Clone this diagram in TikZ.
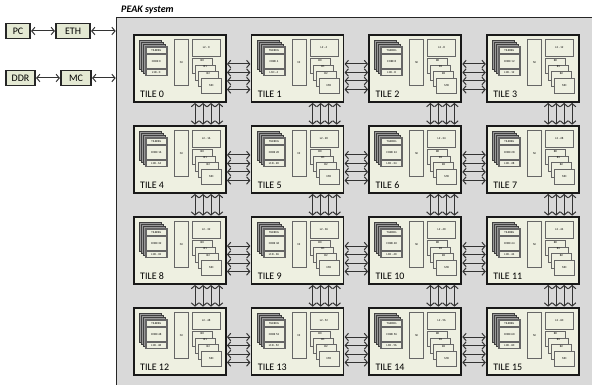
\documentclass[tikz,border=0pt]{standalone}
\usepackage{fontspec}
\setmainfont{Carlito}
\usetikzlibrary{arrows.meta,positioning,calc}
\definecolor{peakgray}{HTML}{D9D9D9}
\definecolor{tilecream}{HTML}{EEF0E1}
\definecolor{extcream}{HTML}{E4E9D3}

\begin{document}
\begin{tikzpicture}[x=1pt, y=-1pt,
    ext/.style={draw=black!85, line width=1.5pt, fill=extcream, minimum height=15pt,
                inner sep=0pt, font=\fontsize{10}{10}\selectfont},
    tile/.style={draw=black!90, line width=1.6pt, fill=tilecream, minimum width=92pt,
                 minimum height=67pt, anchor=north west, inner sep=0pt},
    part/.style={draw=black!60, line width=0.5pt, fill=tilecream, anchor=north west,
                 inner sep=0pt, font=\fontsize{3}{3}\selectfont},
    layer/.style={part, fill=black!40, draw=black!75, minimum width=22pt, minimum height=29pt},
    biarr/.style={{Straight Barb[length=3.2pt,width=7.5pt]}-{Straight Barb[length=3.2pt,width=7.5pt]},
                  line width=1pt, black!80, shorten <=0.3pt, shorten >=0.3pt}
]
\useasboundingbox (0,0) rectangle (592,385);

% PEAK system box
\node[draw=black!85, line width=1.4pt, fill=peakgray, anchor=north west, inner sep=0pt,
      minimum width=480pt, minimum height=372pt] (peak) at (116,17) {};
\node[anchor=south west, inner sep=0pt, font=\fontsize{10}{10}\selectfont\bfseries\itshape]
      (title) at (121,14) {PEAK system};

% outside parts
\node[ext, minimum width=24pt] (pc) at (18,31) {PC};
\node[ext, minimum width=34pt] (eth) at (73,31) {ETH};
\node[ext, minimum width=29pt] (ddr) at (20.5,78) {DDR};
\node[ext, minimum width=30pt] (mc) at (76,78) {MC};

\draw[biarr] (pc) -- (eth);
\draw[biarr] (eth.east) -- (eth.east -| peak.west);
\draw[biarr] (ddr) -- (mc);
\draw[biarr] (mc.east) -- (mc.east -| peak.west);

% tiles
\foreach \r in {0,...,3} {
  \foreach \c in {0,...,3} {
    \pgfmathtruncatemacro{\n}{4*\r+\c}
    \pgfmathtruncatemacro{\k}{4*\n}
    \node[tile] (t\n) at ({133+117.7*\c},{34+91*\r}) {};
    % core stack
    \foreach \d in {3,2,1}
      \node[layer] at ($(t\n.north west)+(12-2*\d,12-2*\d)$) {};
    \node[part, minimum width=22pt, minimum height=29pt] (fr\n) at ($(t\n.north west)+(12,12)$) {};
    \node[part, minimum width=20pt, minimum height=6pt] (reg\n) at ($(t\n.north west)+(13,13)$) {TILEREG};
    \node[part, minimum width=20pt, minimum height=14pt] (core\n) at ($(t\n.north west)+(13,20)$) {CORE \k};
    \node[part, minimum width=20pt, minimum height=6pt] (lid\n) at ($(t\n.north west)+(13,35)$) {L1D - \k};
    % network interface and L2
    \node[part, minimum width=14pt, minimum height=46pt] (ni\n) at ($(t\n.north west)+(41,5)$) {NI};
    \node[part, minimum width=28pt, minimum height=17pt] (ltwo\n) at ($(t\n.north west)+(59,5)$) {L2 - \k};
    \foreach \b [count=\j from 0] in {B0,B1,B2}
      \node[part, minimum width=20pt, minimum height=15pt,
            label={[anchor=north, inner sep=1pt, font=\fontsize{3}{3}\selectfont]north:\b}]
        at ($(t\n.north west)+(59+3*\j,24+6.7*\j)$) {};
    \node[part, minimum width=20pt, minimum height=15pt] (md\n) at ($(t\n.north west)+(68,44)$) {MD};
    \node[anchor=west, inner sep=0pt, font=\fontsize{10}{10}\selectfont]
      (lbl\n) at ($(t\n.south west)+(7,-8)$) {TILE \n};
  }
}

% links between tiles
\foreach \r in {0,...,3} {
  \foreach \c in {0,1,2} {
    \pgfmathtruncatemacro{\n}{4*\r+\c}
    \pgfmathtruncatemacro{\m}{\n+1}
    \foreach \dy in {30,38.5,47,55.5}
      \draw[biarr] ($(t\n.north east)+(0,\dy)$) -- ($(t\m.north west)+(0,\dy)$);
  }
}
\foreach \r in {0,1,2} {
  \foreach \c in {0,...,3} {
    \pgfmathtruncatemacro{\n}{4*\r+\c}
    \pgfmathtruncatemacro{\m}{\n+4}
    \foreach \dx in {62,70,78,86}
      \draw[biarr] ($(t\n.south west)+(\dx,0)$) -- ($(t\m.north west)+(\dx,0)$);
  }
}
\end{tikzpicture}
\end{document}
